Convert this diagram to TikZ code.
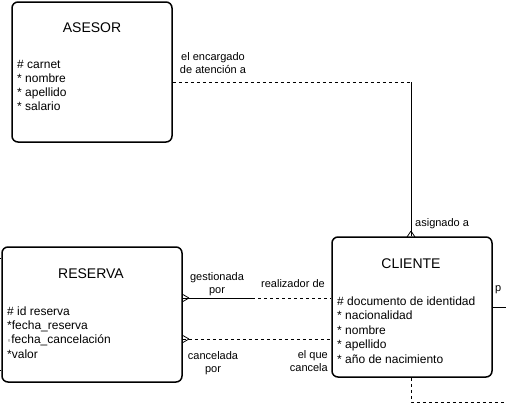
\documentclass[tikz,border=0pt]{standalone}
\usepackage{fontspec}
\setmainfont{Liberation Sans}
\newfontfamily\dejavu{DejaVu Sans}
\begin{document}
\begin{tikzpicture}[x=1pt,y=-1pt,
  entity/.style={draw, line width=1.5pt, rounded corners=6pt, inner sep=0pt},
  ttl/.style={font=\fontsize{14}{16}\selectfont, anchor=base, inner sep=0pt},
  attr/.style={font=\fontsize{12}{14}\selectfont, anchor=base west, inner sep=0pt},
  lbl/.style={font=\fontsize{11}{13}\selectfont, anchor=base, inner sep=0pt},
  conn/.style={line width=0.8pt},
  dsh/.style={conn, dash pattern=on 3pt off 3pt}]
\useasboundingbox (0,0) rectangle (506,405);

% entities
\node[entity, minimum width=160pt, minimum height=140pt] (ASESOR) at (92,72) {};
\node[entity, minimum width=180pt, minimum height=135pt] (RESERVA) at (92,314.5) {};
\node[entity, minimum width=160pt, minimum height=140pt] (CLIENTE) at (412,307) {};

% ASESOR text
\node[ttl] (tA) at (92,32) {ASESOR};
\node[attr] (a1) at (17,68) {\# carnet};
\node[attr] (a2) at (17,82) {* nombre};
\node[attr] (a3) at (17,96) {* apellido};
\node[attr] (a4) at (17,110) {* salario};

% RESERVA text
\node[ttl] (tR) at (91,278) {RESERVA};
\node[attr] (r1) at (7,315) {\# id reserva};
\node[attr] (r2) at (7,329.3) {*fecha\_reserva};
\node[attr] (r3) at (7,343.6) {{\dejavu\fontsize{7}{8}\selectfont ◦}fecha\_cancelación};
\node[attr] (r4) at (7,358) {*valor};

% CLIENTE text
\node[ttl] (tC) at (411,268) {CLIENTE};
\node[attr] (c1) at (337,305) {\# documento de identidad};
\node[attr] (c2) at (337,319.5) {* nacionalidad};
\node[attr] (c3) at (337,334) {* nombre};
\node[attr] (c4) at (337,348.5) {* apellido};
\node[attr] (c5) at (337,363) {* año de nacimiento};

% ASESOR - CLIENTE
\coordinate (k1) at (411,82);
\draw[dsh] (ASESOR.east |- k1) -- (k1);
\draw[conn] (k1) -- (k1 |- CLIENTE.north);
\coordinate (k2) at (411,237);
\draw[conn] ([yshift=6pt]k2) -- ([xshift=-4pt]k2);
\draw[conn] ([yshift=6pt]k2) -- ([xshift=4pt]k2);
\node[lbl] (l1) at (213,60) {el encargado};
\node[lbl] (l2) at (213,73) {de atención a};
\node[lbl, anchor=base west] (l3) at (415,226) {asignado a};

% RESERVA - CLIENTE (gestionada)
\coordinate (m1) at (252,298);
\coordinate (f1) at (182,298);
\draw[conn] (RESERVA.east |- m1) -- (m1);
\draw[dsh] (m1) -- (CLIENTE.west |- m1);
\draw[conn] ([xshift=7pt]f1) -- ([yshift=4pt]f1);
\draw[conn] ([xshift=7pt]f1) -- ([yshift=-4pt]f1);
\node[lbl] (g1) at (217,280) {gestionada};
\node[lbl] (g2) at (217,293) {por};
\node[lbl] (g3) at (293,287) {realizador de};

% RESERVA - CLIENTE (cancelada)
\coordinate (f2) at (182,339);
\draw[dsh] (RESERVA.east |- f2) -- (CLIENTE.west |- f2);
\draw[conn] ([xshift=7pt]f2) -- ([yshift=4pt]f2);
\draw[conn] ([xshift=7pt]f2) -- ([yshift=-4pt]f2);
\node[lbl] (h1) at (213,359) {cancelada};
\node[lbl] (h2) at (213,372) {por};
\node[lbl, anchor=base east] (h3) at (328,358) {el que};
\node[lbl, anchor=base east] (h4) at (328,371) {cancela};

% off-canvas connectors
\coordinate (e1) at (506,307);
\draw[conn] (CLIENTE.east |- e1) -- (e1);
\node[lbl, anchor=base west] (p1) at (495,291) {p};
\coordinate (b1) at (411,402);
\coordinate (b2) at (506,402);
\draw[dsh] (b1 |- CLIENTE.south) -- (b1) -- (b2);
\coordinate (t1) at (0,258);
\coordinate (t2) at (0,370);
\draw[conn] (t1) -- (RESERVA.west |- t1);
\draw[conn] (t2) -- (RESERVA.west |- t2);
\end{tikzpicture}
\end{document}
